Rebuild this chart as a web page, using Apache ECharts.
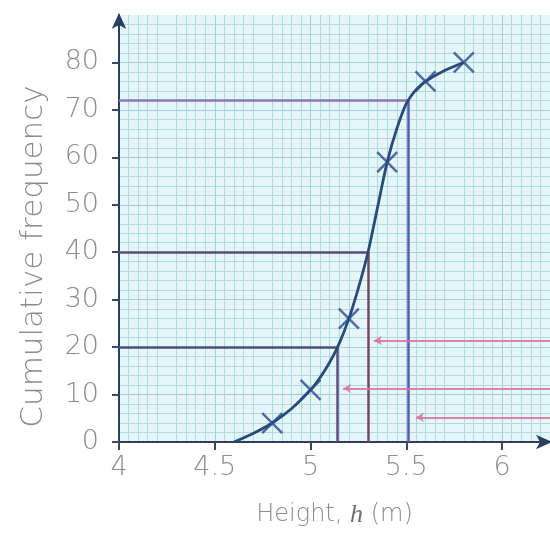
<!DOCTYPE html>
<html>
<head>
<meta charset="utf-8">
<script src="https://cdn.jsdelivr.net/npm/echarts@6/dist/echarts.min.js"></script>
<style>
html,body{margin:0;padding:0;background:#fff;}
#chart{width:550px;height:533px;}
</style>
</head>
<body>
<div id="chart"></div>
<script>
// Data
var xTickLabels = [4, 4.5, 5, 5.5, 6];
var yTickLabels = [0, 10, 20, 30, 40, 50, 60, 70, 80];
var crossHeights = [4.8, 5.0, 5.2, 5.4, 5.6, 5.8];
var crossCumFreq = [4, 11, 26, 59, 76, 80];
// hand-drawn curve
var curveHeights = [4.6, 4.7, 4.8, 4.9, 5.0, 5.05, 5.1, 5.15, 5.2, 5.25, 5.3, 5.35, 5.4, 5.45, 5.5, 5.55, 5.6, 5.7, 5.8];
var curveCumFreq = [0, 1.8, 4, 7, 11, 13.6, 16.8, 20.8, 26, 32.5, 40, 49.5, 59, 66, 71.3, 74.2, 76, 78.3, 80];
// read-off guide lines
var guideFreq = [20, 40, 72];
var guideHeight = [5.14, 5.30, 5.51];
var guideColors = ['#4a4f78', '#5a4a78', '#8a78b0'];
var vertColors = ['#5a4c86', '#7a4466', '#5a5ab8'];
// pink arrows from the right
var arrowFreq = [21.4, 11.3, 5.2];
var arrowTipHeight = [5.33, 5.17, 5.55];

var font = "'DejaVu Sans', sans-serif";
var labelColor = '#8c8c8c';

var curveData = curveHeights.map(function (h, i) { return [h, curveCumFreq[i]]; });
var crossData = crossHeights.map(function (h, i) { return [h, crossCumFreq[i]]; });

var guideLines = [];
guideFreq.forEach(function (f, i) {
  guideLines.push([{coord: [4, f], lineStyle: {color: guideColors[i]}}, {coord: [guideHeight[i], f]}]);
  guideLines.push([{coord: [guideHeight[i], f], lineStyle: {color: vertColors[i]}}, {coord: [guideHeight[i], 0]}]);
});
var arrowLines = arrowFreq.map(function (f, i) {
  return [{coord: [6.25, f]}, {coord: [arrowTipHeight[i], f]}];
});

var chart = echarts.init(document.getElementById('chart'), null, {renderer: 'canvas'});
chart.setOption({
  animation: false,
  backgroundColor: '#ffffff',
  grid: {left: 119, right: 0, top: 15, bottom: 88, show: true, backgroundColor: '#e5f6f8', borderWidth: 0},
  xAxis: {
    type: 'value', min: 4, max: 6.25, interval: 0.25,
    name: '{n|Height, }{i|h}{n| (m)}',
    nameLocation: 'middle', nameGap: 60,
    nameTextStyle: {rich: {
      n: {fontFamily: font, fontWeight: 300, fontSize: 24, color: labelColor},
      i: {fontFamily: 'Liberation Serif', fontStyle: 'italic', fontWeight: 'normal', fontSize: 26, color: '#707070'}
    }},
    axisLine: {show: true, onZero: false, symbol: ['none', 'arrow'], symbolSize: [11, 16], symbolOffset: [0, 2],
      lineStyle: {color: '#2b3f62', width: 2}},
    axisTick: {show: true, inside: false, length: 8, customValues: xTickLabels, lineStyle: {color: '#3a4a60', width: 2}},
    axisLabel: {customValues: xTickLabels, margin: 12, fontFamily: font, fontWeight: 300, fontSize: 27, color: labelColor,
      formatter: function (v) { return String(v); }},
    splitLine: {show: true, lineStyle: {color: '#a9cfd6', width: 1}},
    minorTick: {show: true, splitNumber: 5, length: 0},
    minorSplitLine: {show: true, lineStyle: {color: '#b2d9df', width: 1}}
  },
  yAxis: {
    type: 'value', min: 0, max: 90, interval: 10,
    name: 'Cumulative frequency',
    nameLocation: 'middle', nameGap: 70, nameRotate: 90,
    nameTextStyle: {fontFamily: font, fontWeight: 300, fontSize: 31, color: labelColor, padding: [0, 56, 0, 0]},
    axisLine: {show: true, onZero: false, symbol: ['none', 'arrow'], symbolSize: [11, 16], symbolOffset: [0, 2],
      lineStyle: {color: '#2b3f62', width: 2}},
    axisTick: {show: true, inside: false, length: 7, customValues: yTickLabels, lineStyle: {color: '#3a4a60', width: 2}},
    axisLabel: {customValues: yTickLabels, margin: 20, fontFamily: font, fontWeight: 300, fontSize: 27, color: labelColor},
    splitLine: {show: true, lineStyle: {color: '#a9cfd6', width: 1}},
    minorTick: {show: true, splitNumber: 5, length: 0},
    minorSplitLine: {show: true, lineStyle: {color: '#b2d9df', width: 1}}
  },
  series: [
    {
      type: 'line', data: [], silent: true,
      markLine: {silent: true, symbol: ['none', 'none'], label: {show: false},
        lineStyle: {type: 'solid', width: 2.5, color: '#5a4c86'}, data: guideLines}
    },
    {
      type: 'line', data: [], silent: true,
      markLine: {silent: true, symbol: ['none', 'arrow'], symbolSize: [7, 8], label: {show: false},
        lineStyle: {type: 'solid', width: 2, color: '#d7789a', opacity: 0.9}, itemStyle: {color: '#c0405a'}, data: arrowLines}
    },
    {
      type: 'line', data: curveData, smooth: 0.3, showSymbol: false, symbol: 'none',
      lineStyle: {color: '#2a4a7a', width: 2.8}, z: 5
    },
    {
      type: 'scatter', data: crossData, z: 6,
      symbol: 'path://M0,0L10,10M10,0L0,10', symbolSize: 20,
      itemStyle: {color: 'rgba(0,0,0,0)', borderColor: '#2a4a86', borderWidth: 2.5}
    }
  ]
});
</script>
</body>
</html>
